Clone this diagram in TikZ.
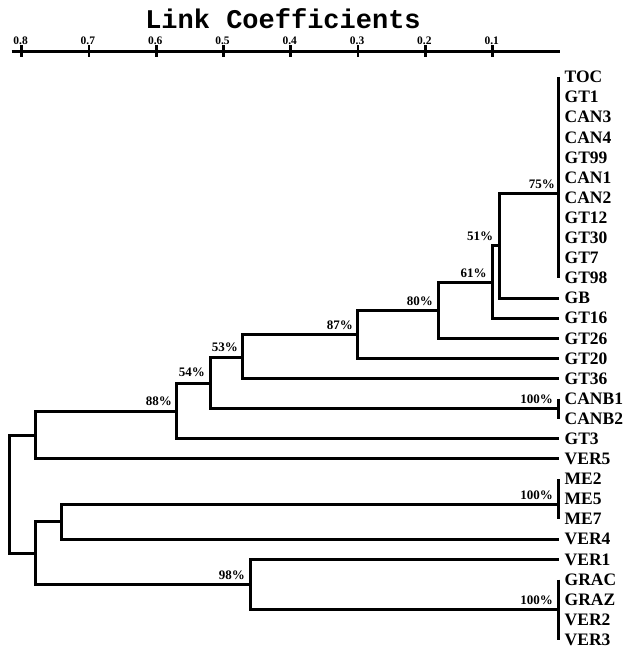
\documentclass[tikz,border=0pt]{standalone}
\usepackage{fontspec}
\setmainfont{Liberation Serif}
\newfontfamily\titlefont{Liberation Mono}
\begin{document}
\begin{tikzpicture}[x=1pt,y=-1pt,
  treeline/.style={line width=3pt, line join=miter},
  axisline/.style={line width=3pt},
  tickmark/.style={line width=2.7pt},
  leaf/.style={anchor=west, inner xsep=6pt, inner ysep=0pt, font=\bfseries\fontsize{17.5}{18}\selectfont},
  pct/.style={anchor=east, inner sep=0pt, font=\bfseries\fontsize{13}{14}\selectfont},
  ticklab/.style={inner sep=0pt, font=\bfseries\fontsize{11.5}{12}\selectfont},
  titlelab/.style={anchor=base, inner sep=0pt, font=\titlefont\bfseries\fontsize{27}{28}\selectfont}
]
\useasboundingbox (0,0) rectangle (625,648);

% title and axis
\node[titlelab] (title) at (283,28) {Link Coefficients};
\coordinate (axL) at (11.7,51.7);
\coordinate (axR) at (560,51.7);
\draw[axisline] (axL) -- (axR);
\foreach \k in {1,...,8}{
  \coordinate (tk\k) at ({560-67.3*\k},51.7);
  \draw[tickmark] ([yshift=-5.2]tk\k) -- ([yshift=6.8]tk\k);
  \node[ticklab] (tl\k) at ([shift={(-1,-10.9)}]tk\k) {0.\k};
}

% leaves
\foreach \n [count=\i from 0] in {TOC,GT1,CAN3,CAN4,GT99,CAN1,CAN2,GT12,GT30,GT7,GT98,GB,GT16,GT26,GT20,GT36,CANB1,CANB2,GT3,VER5,ME2,ME5,ME7,VER4,VER1,GRAC,GRAZ,VER2,VER3}{
  \node[leaf] (l\n) at (558.5,{77+20.1*\i}) {\n};
}

% group bars
\draw[treeline] (lTOC.west) -- (lGT98.west);
\draw[treeline] (lCANB1.west) -- (lCANB2.west);
\draw[treeline] (lME2.west) -- (lME7.west);
\draw[treeline] (lGRAC.west) -- (lVER3.west);

\coordinate (gTOC) at (558.5,193);
\coordinate (gCANB) at (558.5,408.3);
\coordinate (gME) at (558.5,504);
\coordinate (gGR) at (558.5,609.3);

% internal nodes
\coordinate (nA) at (499.3,245);
\coordinate (n61) at (492.7,282.7);
\coordinate (n80) at (438,310.6);
\coordinate (n87) at (357.7,334.8);
\coordinate (n53) at (242.7,357.5);
\coordinate (n54) at (210,383);
\coordinate (n88) at (176,411);
\coordinate (nU) at (35,435);
\coordinate (nM) at (61.7,521.6);
\coordinate (n98) at (250,584.4);
\coordinate (nL) at (35,553);
\coordinate (root) at (9,494);

% branches
\draw[treeline] (gTOC) -| (nA) |- (lGB.west);
\draw[treeline] (nA) -| (n61) |- (lGT16.west);
\draw[treeline] (n61) -| (n80) |- (lGT26.west);
\draw[treeline] (n80) -| (n87) |- (lGT20.west);
\draw[treeline] (n87) -| (n53) |- (lGT36.west);
\draw[treeline] (n53) -| (n54) |- (gCANB);
\draw[treeline] (n54) -| (n88) |- (lGT3.west);
\draw[treeline] (n88) -| (nU) |- (lVER5.west);
\draw[treeline] (gME) -| (nM) |- (lVER4.west);
\draw[treeline] (lVER1.west) -| (n98) |- (gGR);
\draw[treeline] (nM) -| (nL) |- (n98);
\draw[treeline] (nU) -| (root) |- (nL);

% support values
\node[pct] (p75) at ([shift={(-3.5,-8.5)}]gTOC) {75\%};
\node[pct] (p51) at ([shift={(-6,-8.5)}]nA) {51\%};
\node[pct] (p61) at ([shift={(-6,-9.5)}]n61) {61\%};
\node[pct] (p80) at ([shift={(-5,-9.2)}]n80) {80\%};
\node[pct] (p87) at ([shift={(-4.7,-9.8)}]n87) {87\%};
\node[pct] (p53) at ([shift={(-4.7,-10.5)}]n53) {53\%};
\node[pct] (p54) at ([shift={(-5,-10.3)}]n54) {54\%};
\node[pct] (p88) at ([shift={(-4,-9.3)}]n88) {88\%};
\node[pct] (pCANB) at ([shift={(-5.5,-9.3)}]gCANB) {100\%};
\node[pct] (pME) at ([shift={(-5.5,-9)}]gME) {100\%};
\node[pct] (pGR) at ([shift={(-5.5,-9.5)}]gGR) {100\%};
\node[pct] (p98) at ([shift={(-5,-9.4)}]n98) {98\%};
\end{tikzpicture}
\end{document}
